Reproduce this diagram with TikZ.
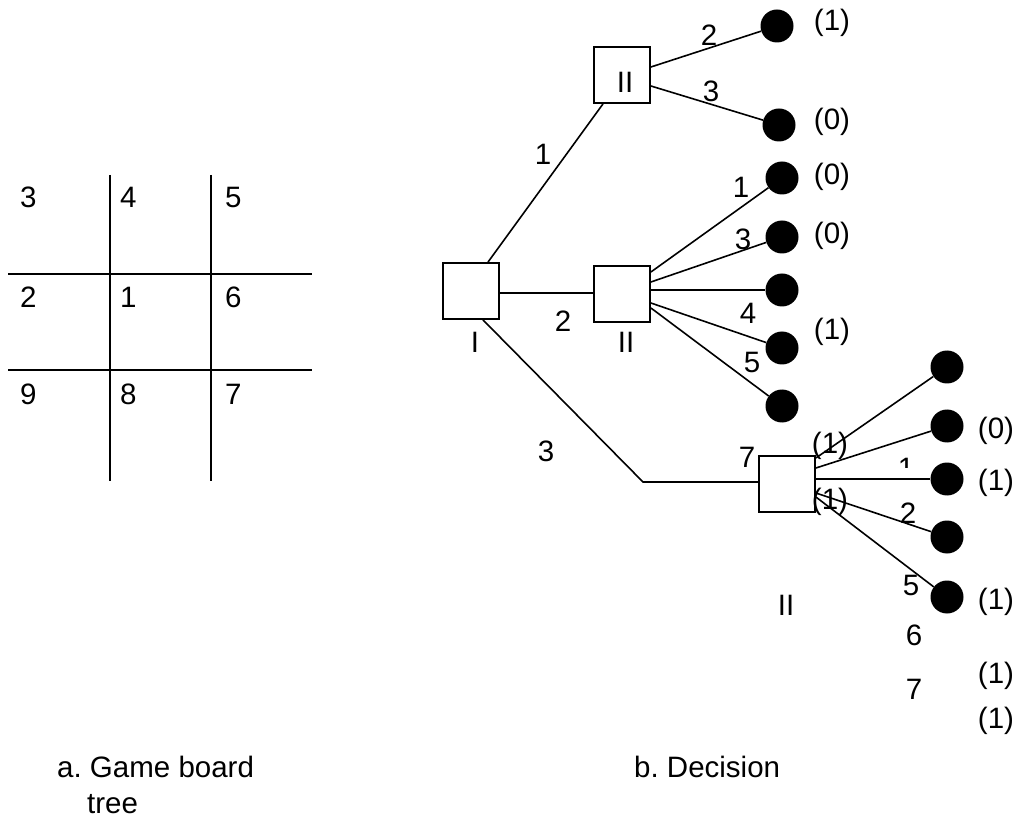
\documentclass[tikz,border=0pt]{standalone}
\usepackage{fontspec}
\setmainfont{Liberation Sans}
\frenchspacing
\usetikzlibrary{calc}
\begin{document}
\begin{tikzpicture}[x=1pt,y=-1pt,
  every node/.style={font=\fontsize{29.5}{35}\selectfont},
  lbl/.style={inner sep=0pt},
  cell/.style={inner sep=0pt, anchor=base west},
  gridline/.style={line width=1.7pt},
  box/.style={draw, line width=1.8pt, minimum size=56pt, inner sep=0pt},
  leaf/.style={circle, fill=black, minimum size=33pt, inner sep=0pt},
  edge/.style={line width=1.6pt}]
\useasboundingbox (0,0) rectangle (1018,818);

% ---------- game board ----------
\draw[gridline] (110,175) -- (110,481);
\draw[gridline] (211,175) -- (211,481);
\draw[gridline] (8,274) -- (312,274);
\draw[gridline] (8,370) -- (312,370);
\node[cell] (g3) at (20,208) {3};
\node[cell] (g4) at (120,208) {4};
\node[cell] (g5) at (225,208) {5};
\node[cell] (g2) at (20,308) {2};
\node[cell] (g1) at (120,308) {1};
\node[cell] (g6) at (225,308) {6};
\node[cell] (g9) at (20,405) {9};
\node[cell] (g8) at (120,405) {8};
\node[cell] (g7) at (225,405) {7};

% ---------- decision tree ----------
\node[box] (root) at (471,291) {};
\node[box] (bt) at (622,75) {};
\node[box] (bm) at (622,294) {};
\node[box] (bb) at (787,484) {};

\node[lbl] (lroot) at (475,342) {I};
\node[lbl] (lbt) at (625,82) {II};
\node[lbl] (lbm) at (626,342) {II};
\node[lbl] (lbb) at (786,605) {II};

% leaves of top box
\node[leaf] (t1) at (777,26) {};
\node[leaf] (t2) at (779,125) {};
% leaves of middle box
\node[leaf] (m1) at (782,178) {};
\node[leaf] (m2) at (782,237) {};
\node[leaf] (m3) at (782,290) {};
\node[leaf] (m4) at (782,348) {};
\node[leaf] (m5) at (782,406) {};
% leaves of bottom box
\node[leaf] (n1) at (947,367) {};
\node[leaf] (n2) at (947,426) {};
\node[leaf] (n3) at (947,479) {};
\node[leaf] (n4) at (947,537) {};
\node[leaf] (n5) at (947,597) {};

\coordinate (bend) at (643,482);

% edges from root
\draw[edge] ([xshift=17pt]root.north) -- ([xshift=-19pt]bt.south);
\draw[edge] ([yshift=-2pt]root.east) -- ([yshift=1pt]bm.west);
\draw[edge] ([xshift=12pt]root.south) -- (bend) -- ([yshift=2pt]bb.west);

% edges from top box
\draw[edge] ([yshift=8pt]bt.east) -- (t1);
\draw[edge] ([yshift=-11pt]bt.east) -- (t2);
% edges from middle box
\draw[edge] ([yshift=22pt]bm.east) -- (m1);
\draw[edge] ([yshift=12pt]bm.east) -- (m2);
\draw[edge] ([yshift=4pt]bm.east) -- (m3);
\draw[edge] ([yshift=-9pt]bm.east) -- (m4);
\draw[edge] ([yshift=-14pt]bm.east) -- (m5);
% edges from bottom box
\draw[edge] ([yshift=26pt]bb.east) -- (n1);
\draw[edge] ([yshift=16pt]bb.east) -- (n2);
\draw[edge] ([yshift=5pt]bb.east) -- (n3);
\draw[edge] ([yshift=-9pt]bb.east) -- (n4);
\draw[edge] ([yshift=-13pt]bb.east) -- (n5);

% edge labels
\node[lbl] (e1) at (543,154) {1};
\node[lbl] (e2) at (563,321) {2};
\node[lbl] (e3) at (546,451) {3};
\node[lbl] (et2) at (709,35) {2};
\node[lbl] (et3) at (711,91) {3};
\node[lbl] (em1) at (741,187) {1};
\node[lbl] (em3) at (743,239) {3};
\node[lbl] (em4) at (748,313) {4};
\node[lbl] (em5) at (752,362) {5};
\node[lbl] (eb7) at (747,457) {7};
\begin{scope}
  \clip (890,440) rectangle (925,467);
  \node[lbl] (eb1) at (906,468) {1};
\end{scope}
\node[lbl] (eb2) at (908,513) {2};
\node[lbl] (eb5) at (911,585) {5};
\node[lbl] (eb6) at (914,635) {6};
\node[lbl] (eb7b) at (914,689) {7};

% outcome labels
\node[lbl] (o1) at (832,23) {(1)};
\node[lbl] (o2) at (832,122) {(0)};
\node[lbl] (o3) at (832,177) {(0)};
\node[lbl] (o4) at (832,236) {(0)};
\node[lbl] (o5) at (832,332) {(1)};
\node[lbl] (o6) at (830,446) {(1)};
\node[lbl] (o7) at (830,502) {(1)};
\node[lbl] (o8) at (996,431) {(0)};
\node[lbl] (o9) at (996,483) {(1)};
\node[lbl] (o10) at (996,602) {(1)};
\node[lbl] (o11) at (996,676) {(1)};
\node[lbl] (o12) at (996,721) {(1)};

% captions
\node[cell] (capa) at (57,777) {a. Game board};
\node[cell] (capb) at (87,813) {tree};
\node[cell] (capc) at (634,777) {b. Decision};
\end{tikzpicture}
\end{document}
